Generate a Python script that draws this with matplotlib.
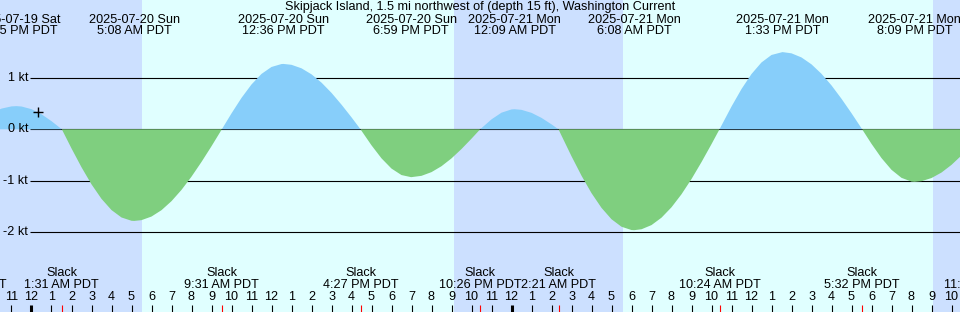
import pandas as pd
import matplotlib.pyplot as plt

# ---------- data ---------- #
title = "Skipjack Island, 1.5 mi northwest of (depth 15 ft), Washington Current"
t0 = pd.Timestamp("2025-07-20 00:00")

# current speed curve (hours after 2025-07-20 00:00 PDT, knots; + flood / - ebb)
curve_hours = [-3.13, -2.5, -2.0, -1.5, -1.0, -0.75, -0.5, 0.0, 0.5, 1.0, 1.517,
               2.0, 2.5, 3.0, 3.5, 4.0, 4.5, 5.0, 5.133, 5.5, 6.0, 6.5, 7.0, 7.5,
               8.0, 8.5, 9.0, 9.517, 10.0, 10.5, 11.0, 11.5, 12.0, 12.5, 12.6,
               13.0, 13.5, 14.0, 14.5, 15.0, 15.5, 16.0, 16.45, 17.0, 17.5, 18.0,
               18.5, 18.983, 19.5, 20.0, 20.5, 21.0, 21.5, 22.0, 22.433, 23.0,
               23.5, 24.0, 24.15, 24.5, 25.0, 25.5, 26.0, 26.35, 26.5, 27.0, 27.5,
               28.0, 28.5, 29.0, 29.5, 30.0, 30.133, 30.5, 31.0, 31.5, 32.0, 32.5,
               33.0, 33.5, 34.0, 34.4, 35.0, 35.5, 36.0, 36.5, 37.0, 37.55, 38.0,
               38.5, 39.0, 39.5, 40.0, 40.5, 41.0, 41.533, 42.0, 42.5, 43.0, 43.5,
               44.0, 44.15, 44.5, 45.0, 45.5, 46.0, 46.5, 47.0]
curve_kt = [0.0, 0.2, 0.318, 0.402, 0.445, 0.45, 0.443, 0.391, 0.292, 0.158, 0.0,
            -0.371, -0.737, -1.069, -1.351, -1.569, -1.713, -1.777, -1.78, -1.765,
            -1.695, -1.571, -1.396, -1.177, -0.920, -0.634, -0.329, 0.0, 0.309,
            0.610, 0.871, 1.076, 1.211, 1.268, 1.27, 1.253, 1.185, 1.068, 0.907,
            0.708, 0.479, 0.233, 0.0, -0.311, -0.564, -0.763, -0.889, -0.93,
            -0.904, -0.832, -0.717, -0.565, -0.383, -0.182, 0.0, 0.193, 0.323,
            0.386, 0.39, 0.378, 0.320, 0.222, 0.096, 0.0, -0.122, -0.523, -0.901,
            -1.240, -1.526, -1.747, -1.893, -1.957, -1.96, -1.942, -1.861, -1.717,
            -1.515, -1.262, -0.966, -0.637, -0.288, 0.0, 0.442, 0.782, 1.074,
            1.299, 1.444, 1.50, 1.476, 1.396, 1.262, 1.078, 0.853, 0.593, 0.313,
            0.0, -0.282, -0.559, -0.787, -0.943, -1.016, -1.02, -1.008, -0.947,
            -0.840, -0.691, -0.508, -0.299]

max_times = ["2025-07-19 23:15", "2025-07-20 05:08", "2025-07-20 12:36",
             "2025-07-20 18:59", "2025-07-21 00:09", "2025-07-21 06:08",
             "2025-07-21 13:33", "2025-07-21 20:09"]
slack_times = ["2025-07-19 20:52", "2025-07-20 01:31", "2025-07-20 09:31",
               "2025-07-20 16:27", "2025-07-20 22:26", "2025-07-21 02:21",
               "2025-07-21 10:24", "2025-07-21 17:32", "2025-07-21 23:40"]
sunrise = ["2025-07-20 05:32", "2025-07-21 05:35"]
sunset = ["2025-07-20 21:08", "2025-07-21 21:05"]
grid_kt = [1, 0, -1, -2]

# "+" marker on the curve
now_hours, now_kt = 0.325, 0.342

NIGHT = "#CCE0FF"
DAY = "#E0FFFF"
FLOOD = "#87CEFA"
EBB = "#7FCF7F"
FS = 9.1

W, H = 960, 312


def hrs(s):
    return (pd.Timestamp(s) - t0).total_seconds() / 3600


def clock(s):
    ts = pd.Timestamp(s)
    h = ts.hour % 12 or 12
    return f"{h}:{ts.minute:02d} {'AM' if ts.hour < 12 else 'PM'} PDT"


def fy(py):  # pixel row -> axes fraction
    return 1 - py / H


plt.rcParams["font.family"] = ["Liberation Sans", "DejaVu Sans"]
fig = plt.figure(figsize=(W / 100, H / 100), dpi=100, facecolor=DAY)
ax = fig.add_axes([0, 0, 1, 1])
ax.set_facecolor(DAY)
x_left, x_right = -31.5 / 20, (W - 31.5) / 20
ax.set_xlim(x_left, x_right)
ax.set_ylim(-(H - 129.3) / 51.47, 129.3 / 51.47)
ax.axis("off")
xt = ax.get_xaxis_transform()
yt = ax.get_yaxis_transform()

# ---------- night shading ---------- #
edges = [x_left] + [v for pair in zip(map(hrs, sunrise), map(hrs, sunset)) for v in pair] + [x_right]
for a, b in zip(edges[0::2], edges[1::2]):
    ax.axvspan(a, b, color=NIGHT, lw=0, zorder=0)

# ---------- grid + labels ---------- #
for k in grid_kt:
    ax.hlines(k, 30 / W, 1, transform=yt, color="black", lw=0.8, zorder=1)
    ax.text(28 / W, k, f"{k} kt", transform=yt, ha="right", va="center", fontsize=FS)

# ---------- flood / ebb fill ---------- #
pos = [max(v, 0) for v in curve_kt]
neg = [min(v, 0) for v in curve_kt]
ax.fill_between(curve_hours, 0, pos, color=FLOOD, lw=0, zorder=2)
ax.fill_between(curve_hours, 0, neg, color=EBB, lw=0, zorder=2)
ax.plot([now_hours], [now_kt], marker="+", color="black", ms=7, mew=1, zorder=3)

# ---------- top labels ---------- #
fig.text(0.5, fy(7), title, ha="center", va="center", fontsize=FS)
for s in max_times:
    x = hrs(s)
    ax.text(x, fy(20), f"{pd.Timestamp(s):%Y-%m-%d %a}", transform=xt,
            ha="center", va="center", fontsize=FS)
    ax.text(x, fy(31.5), clock(s), transform=xt, ha="center", va="center", fontsize=FS)

# ---------- bottom: slack labels, hour ticks ---------- #
for s in slack_times:
    x = hrs(s)
    ax.text(x, fy(273.5), "Slack", transform=xt, ha="center", va="center", fontsize=FS)
    ax.text(x, fy(285.5), clock(s), transform=xt, ha="center", va="center", fontsize=FS)
    ax.vlines(x, 0, 7 / H, transform=xt, color="red", lw=0.8, zorder=4)

for h in range(-1, 47):
    lab = (h % 12) or 12
    ax.text(h, fy(297), str(lab), transform=xt, ha="center", va="center", fontsize=FS)
    ax.vlines(h, 0, 7 / H, transform=xt, color="black",
              lw=2.2 if h % 24 == 0 else 0.8, zorder=4)

fig.savefig("out.png", dpi=100, facecolor=DAY)
